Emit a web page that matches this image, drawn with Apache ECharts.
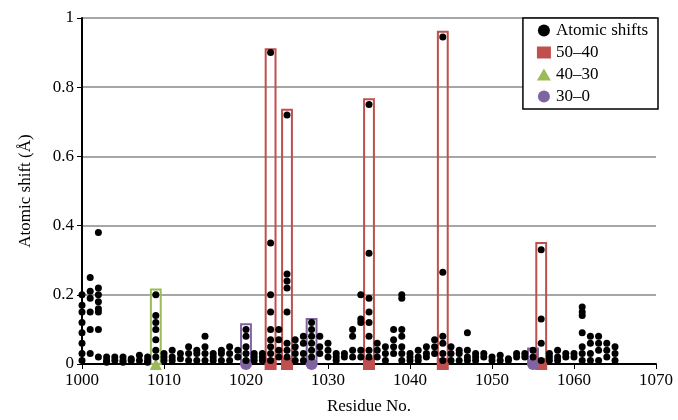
<!DOCTYPE html>
<html><head><meta charset="utf-8">
<script src="https://cdn.jsdelivr.net/npm/echarts@6/dist/echarts.min.js"></script>
<style>html,body{margin:0;background:#fff}#c{width:678px;height:420px}</style>
</head><body><div id="c"></div>
<script>
// per residue: [residue, shifts...]
const shifts = [
  [1000, 0.2, 0.17, 0.15, 0.12, 0.09, 0.06, 0.03, 0.01],
  [1001, 0.21, 0.25, 0.19, 0.15, 0.1, 0.03],
  [1002, 0.38, 0.22, 0.2, 0.18, 0.16, 0.15, 0.1, 0.02],
  [1003, 0.02, 0.01, 0.005], [1004, 0.02, 0.01], [1005, 0.02, 0.01, 0.005],
  [1006, 0.015, 0.01], [1007, 0.025, 0.01], [1008, 0.02, 0.01, 0.005],
  [1009, 0.2, 0.14, 0.12, 0.1, 0.07, 0.04, 0.02],
  [1010, 0.03, 0.02, 0.01], [1011, 0.04, 0.02, 0.01], [1012, 0.03, 0.015],
  [1013, 0.05, 0.03, 0.01], [1014, 0.04, 0.03, 0.01], [1015, 0.08, 0.05, 0.03, 0.01],
  [1016, 0.03, 0.02, 0.01], [1017, 0.04, 0.03, 0.01], [1018, 0.05, 0.03, 0.01],
  [1019, 0.04, 0.02], [1020, 0.1, 0.08, 0.05, 0.03, 0.01],
  [1021, 0.03, 0.02, 0.01], [1022, 0.03, 0.02, 0.01],
  [1023, 0.9, 0.35, 0.2, 0.15, 0.1, 0.07, 0.05, 0.03, 0.01],
  [1024, 0.1, 0.07, 0.04, 0.02],
  [1025, 0.72, 0.26, 0.24, 0.22, 0.15, 0.06, 0.04, 0.02],
  [1026, 0.07, 0.05, 0.03, 0.01], [1027, 0.08, 0.06, 0.03, 0.01],
  [1028, 0.12, 0.1, 0.08, 0.06, 0.04, 0.02],
  [1029, 0.08, 0.05, 0.03], [1030, 0.06, 0.04, 0.02], [1031, 0.03, 0.02, 0.01],
  [1032, 0.03, 0.02], [1033, 0.1, 0.08, 0.04, 0.02],
  [1034, 0.2, 0.13, 0.12, 0.04, 0.02],
  [1035, 0.75, 0.32, 0.19, 0.15, 0.12, 0.08, 0.04, 0.02],
  [1036, 0.06, 0.04, 0.02], [1037, 0.05, 0.03, 0.01], [1038, 0.1, 0.07, 0.05, 0.03],
  [1039, 0.2, 0.19, 0.1, 0.08, 0.05, 0.03, 0.01],
  [1040, 0.03, 0.02, 0.01], [1041, 0.04, 0.02, 0.01], [1042, 0.05, 0.03, 0.02],
  [1043, 0.07, 0.05, 0.03], [1044, 0.945, 0.265, 0.08, 0.06, 0.03, 0.01],
  [1045, 0.05, 0.03, 0.01], [1046, 0.04, 0.03, 0.01], [1047, 0.09, 0.04, 0.02, 0.01],
  [1048, 0.03, 0.02, 0.01], [1049, 0.03, 0.02], [1050, 0.02, 0.01],
  [1051, 0.025, 0.01], [1052, 0.015, 0.01], [1053, 0.03, 0.02], [1054, 0.03, 0.02],
  [1055, 0.04, 0.02], [1056, 0.33, 0.13, 0.06, 0.01],
  [1057, 0.03, 0.02, 0.01], [1058, 0.04, 0.02, 0.01], [1059, 0.03, 0.02], [1060, 0.03, 0.02],
  [1061, 0.165, 0.15, 0.14, 0.09, 0.05, 0.03, 0.01],
  [1062, 0.08, 0.06, 0.03, 0.01], [1063, 0.08, 0.06, 0.04, 0.01],
  [1064, 0.06, 0.04, 0.02], [1065, 0.05, 0.03, 0.01]
];
// highlighted residues and box heights
const group50 = [1023, 1025, 1035, 1044, 1056];
const group50Top = [0.91, 0.735, 0.765, 0.96, 0.35];
const group40 = [1009];
const group40Top = [0.215];
const group30 = [1020, 1028, 1055];
const group30Top = [0.115, 0.13, 0.045];

const pts = [];
shifts.forEach(r => r.slice(1).forEach(v => pts.push([r[0], v])));

function boxes(res, tops, color) {
  return {
    silent: true,
    itemStyle: { color: 'rgba(0,0,0,0)', borderColor: color, borderWidth: 2 },
    data: res.map((x, i) => [{ xAxis: x - 0.6, yAxis: 0 }, { xAxis: x + 0.6, yAxis: tops[i] }])
  };
}
function marks(name, res, symbol, color, tops) {
  return {
    name: name, type: 'scatter', symbol: symbol, symbolSize: 12, z: 3,
    itemStyle: { color: color, opacity: 1 },
    data: res.map(x => [x, 0]),
    markArea: boxes(res, tops, color)
  };
}

const font = 'Liberation Serif';
const chart = echarts.init(document.getElementById('c'));
chart.setOption({
  animation: false,
  textStyle: { fontFamily: font },
  grid: { left: 82, right: 22, top: 18, bottom: 55 },
  legend: {
    right: 20, top: 18, orient: 'vertical', itemGap: 5, itemWidth: 14, itemHeight: 12,
    backgroundColor: '#fff', borderColor: '#000', borderWidth: 1.5,
    padding: [4, 10, 4, 14],
    textStyle: { fontFamily: font, fontSize: 17, color: '#000' },
    data: ['Atomic shifts', '50–40', '40–30', '30–0']
  },
  xAxis: {
    type: 'value', min: 1000, max: 1070, interval: 10,
    name: 'Residue No.', nameLocation: 'middle', nameGap: 34,
    nameTextStyle: { fontSize: 17, color: '#000' },
    axisLine: { lineStyle: { color: '#000', width: 2 } },
    axisTick: { show: true, length: 5, lineStyle: { color: '#000' } },
    axisLabel: { fontSize: 17, color: '#000', formatter: v => String(v) },
    splitLine: { show: false }
  },
  yAxis: {
    type: 'value', min: 0, max: 1, interval: 0.2,
    name: 'Atomic shift (Å)', nameLocation: 'middle', nameGap: 48,
    nameTextStyle: { fontSize: 17, color: '#000' },
    axisLine: { show: true, lineStyle: { color: '#000', width: 2 } },
    axisTick: { show: true, length: 5, lineStyle: { color: '#000' } },
    axisLabel: { fontSize: 17, color: '#000' },
    splitLine: { lineStyle: { color: '#888', width: 1.5 } }
  },
  series: [
    { name: 'Atomic shifts', type: 'scatter', symbolSize: 7, z: 4,
      itemStyle: { color: '#000', opacity: 1 }, data: pts },
    marks('50–40', group50, 'rect', '#c0504d', group50Top),
    marks('40–30', group40, 'triangle', '#9bbb59', group40Top),
    marks('30–0', group30, 'circle', '#8064a2', group30Top)
  ]
});
</script></body></html>
